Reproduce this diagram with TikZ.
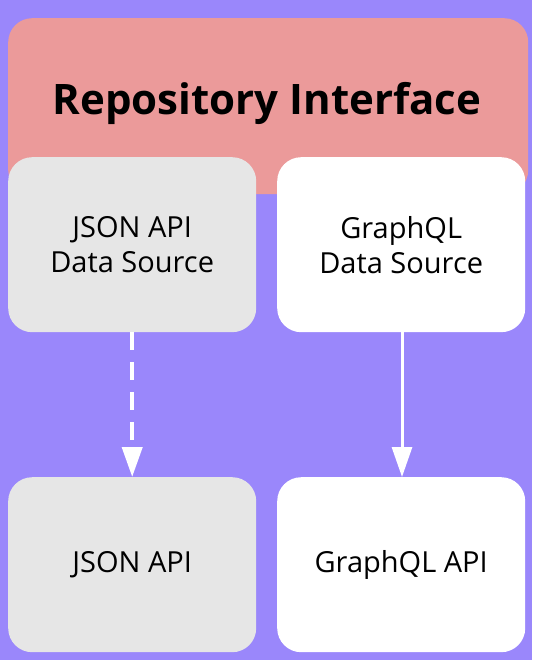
\documentclass[tikz,border=0pt]{standalone}
\usepackage{fontspec}
\setmainfont{Open Sans}
\usepackage{xcolor}
\definecolor{bgPurple}{HTML}{9A87FB}
\definecolor{repoRed}{HTML}{EB9A9A}
\definecolor{jsonGray}{HTML}{E6E6E6}
\usepackage{tikz}
\usetikzlibrary{arrows.meta, positioning}

\begin{document}
\begin{tikzpicture}[x=1pt, y=-1pt,
    box/.style={draw=none, rounded corners=24pt, minimum width=248pt, minimum height=175pt,
        align=center, font=\fontsize{29}{35}\selectfont, text=black, inner sep=0pt},
    link/.style={white, -{Triangle[length=30pt, width=20pt]}}]
    % Fondo
    \fill[bgPurple] (0,0) rectangle (532,660);
    \useasboundingbox (0,0) rectangle (532,660);

    % Interfaz del repositorio (caja roja de fondo)
    \node[box, fill=repoRed, minimum width=520pt, minimum height=176pt, anchor=north west] (repo) at (8,18) {};
    \node[font=\fontsize{42}{48}\bfseries\selectfont] (repoLabel) at (267,103) {Repository Interface};

    % Fuentes de datos
    \node[box, fill=jsonGray, anchor=north west] (jsonSrc) at (8,157) {JSON API\\Data Source};
    \node[box, fill=white, anchor=north west] (gqlSrc) at (277,157) {GraphQL\\Data Source};

    % APIs
    \node[box, fill=jsonGray, anchor=north west] (jsonApi) at (8,477) {JSON API};
    \node[box, fill=white, anchor=north west] (gqlApi) at (277,477) {GraphQL API};

    % Flechas
    \draw[link, line width=4pt, dash pattern=on 18pt off 12pt] (jsonSrc.south) -- (jsonApi.north);
    \draw[link, line width=3pt] (gqlSrc.south -| 402,0) -- (gqlApi.north -| 402,0);
\end{tikzpicture}
\end{document}
